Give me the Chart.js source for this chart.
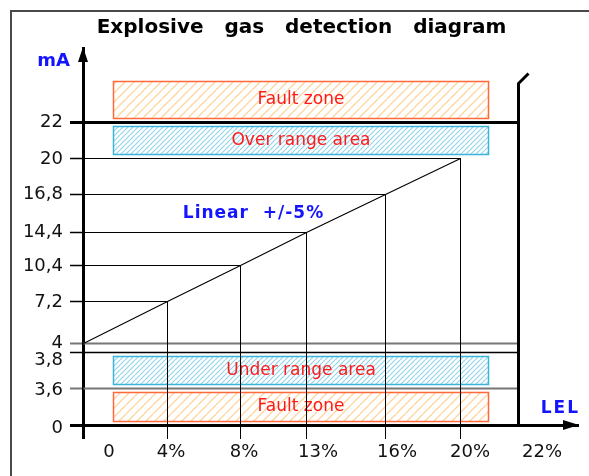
<!DOCTYPE html>
<html>
<head>
<meta charset="utf-8">
<title>Explosive gas detection diagram</title>
<script src="https://cdn.jsdelivr.net/npm/chart.js@4/dist/chart.umd.min.js"></script>
<style>
  html, body { margin: 0; padding: 0; background: #fff; }
</style>
</head>
<body>
<canvas id="gasChart" width="589" height="476"></canvas>
<script>
// values
const lelPoints = [0, 4, 8, 13, 16, 20];
const maPoints = [4, 7.2, 10.4, 14.4, 16.8, 20];
const xTickValues = [0, 4, 8, 13, 16, 20, 22];
const xTickLabels = ["0", "4%", "8%", "13%", "16%", "20%", "22%"];
const yTickValues = [0, 3.6, 3.8, 4, 7.2, 10.4, 14.4, 16.8, 20, 22];
const yTickLabels = ["0", "3,6", "3,8", "4", "7,2", "10,4", "14,4", "16,8", "20", "22"];
const limitLevels = [22, 4, 3.8, 3.6];
const xLimit = 22;
const zoneNames = ["Fault zone", "Over range area", "Under range area", "Fault zone"];
const zoneLow = [22, 20, 3.6, 0];
const zoneHigh = [24.4, 22, 3.8, 3.6];

// the drawing is a schematic: axes are piecewise linear between the marked values
class WarpScale extends Chart.LinearScale {
  _toDecimal(v) {
    const sv = this.options.warpValues, sf = this.options.warpFractions;
    let i = 1;
    while (i < sv.length - 1 && v > sv[i]) i++;
    return sf[i - 1] + (v - sv[i - 1]) / (sv[i] - sv[i - 1]) * (sf[i] - sf[i - 1]);
  }
  getPixelForValue(v) {
    const p = this.getPixelForDecimal(this._toDecimal(v));
    // keep thin lines on the pixel grid so they stay crisp
    return this.options.crisp ? Math.round(p - 0.5) + 0.5 : p;
  }
  getValueForPixel(p) {
    const d = this.getDecimalForPixel(p);
    const sv = this.options.warpValues, sf = this.options.warpFractions;
    let i = 1;
    while (i < sf.length - 1 && d > sf[i]) i++;
    return sv[i - 1] + (d - sf[i - 1]) / (sf[i] - sf[i - 1]) * (sv[i] - sv[i - 1]);
  }
  buildTicks() {
    return this.options.tickValues.map(v => ({ value: v }));
  }
}
WarpScale.id = "warp";
WarpScale.defaults = {};
Chart.register(WarpScale);

function grayLevel(v) { return v === 4 || v === 3.6; }

function hatch(ctx, gap, color, width) {
  const c = document.createElement("canvas");
  c.width = c.height = gap;
  const g = c.getContext("2d");
  g.strokeStyle = color;
  g.lineWidth = width;
  g.beginPath();
  for (let k = -1; k <= 1; k++) {
    g.moveTo(k * gap, gap);
    g.lineTo(k * gap + gap, 0);
  }
  g.stroke();
  return ctx.createPattern(c, "repeat");
}

const datasets = [];
datasets.push({
  data: lelPoints.map((x, i) => ({ x: x, y: maPoints[i] })),
  borderColor: "#000", borderWidth: 1.1
});
const drops = [];
lelPoints.forEach((x, i) => {
  if (x === 0) return;
  const y = maPoints[i];
  drops.push({ x: 0, y: y }, { x: x, y: y }, { x: x, y: 0 }, { x: x, y: null });
});
datasets.push({ data: drops, borderColor: "#000", borderWidth: 1 });
limitLevels.forEach(v => {
  datasets.push({
    data: [{ x: 0, y: v }, { x: xLimit, y: v }],
    borderColor: grayLevel(v) ? "#777" : "#000",
    borderWidth: v === 22 ? 3 : (grayLevel(v) ? 2 : 1.5)
  });
});

const decor = {
  id: "decor",
  beforeDatasetsDraw(chart) {
    const ctx = chart.ctx, xs = chart.scales.x, ys = chart.scales.y;
    const faultFill = hatch(ctx, 9, "#ffd49c", 1.3);
    const rangeFill = hatch(ctx, 5, "#93d4ea", 1.2);
    ctx.save();
    zoneNames.forEach((name, i) => {
      const fault = name.indexOf("Fault") === 0;
      const l = xs.getPixelForValue(0) + 30, r = xs.getPixelForValue(xLimit) - 30;
      const t = ys.getPixelForValue(zoneHigh[i]) + 4, b = ys.getPixelForValue(zoneLow[i]) - 4;
      ctx.fillStyle = fault ? faultFill : rangeFill;
      ctx.fillRect(l, t, r - l, b - t);
      ctx.strokeStyle = fault ? "#ff6a3d" : "#3cb4d8";
      ctx.lineWidth = 1.5;
      ctx.strokeRect(l, t, r - l, b - t);
      ctx.fillStyle = "#ff1a1a";
      ctx.font = "17px 'DejaVu Sans'";
      ctx.textAlign = "center";
      ctx.textBaseline = "middle";
      ctx.fillText(name, (l + r) / 2, (t + b) / 2);
    });
    ctx.restore();
  },
  afterDraw(chart) {
    const ctx = chart.ctx, xs = chart.scales.x, ys = chart.scales.y, a = chart.chartArea;
    ctx.save();
    // right limit with break mark
    const bx = xs.getPixelForValue(xLimit), by = ys.getPixelForValue(22) - 39;
    ctx.strokeStyle = "#000";
    ctx.lineWidth = 3;
    ctx.beginPath();
    ctx.moveTo(bx, ys.getPixelForValue(0));
    ctx.lineTo(bx, by);
    ctx.lineTo(bx + 10, by - 10);
    ctx.stroke();
    // arrow heads
    ctx.fillStyle = "#000";
    ctx.beginPath();
    ctx.moveTo(a.left, a.top - 1);
    ctx.lineTo(a.left - 5, a.top + 14);
    ctx.lineTo(a.left + 5, a.top + 14);
    ctx.closePath();
    ctx.fill();
    ctx.beginPath();
    ctx.moveTo(a.right + 1, a.bottom);
    ctx.lineTo(a.right - 15, a.bottom - 5);
    ctx.lineTo(a.right - 15, a.bottom + 5);
    ctx.closePath();
    ctx.fill();
    // axis names and note
    ctx.fillStyle = "#1414ff";
    ctx.font = "bold 18px 'DejaVu Sans'";
    ctx.textBaseline = "middle";
    ctx.textAlign = "right";
    ctx.fillText("mA", a.left - 13, a.top + 13);
    ctx.font = "bold 17px 'DejaVu Sans'";
    ctx.letterSpacing = "2px";
    ctx.fillText("LEL", a.right + 2, a.bottom - 16);
    ctx.letterSpacing = "1px";
    ctx.textAlign = "center";
    ctx.fillText("Linear  +/-5%", xs.getPixelForValue(9), ys.getPixelForValue(15.6));
    ctx.letterSpacing = "0px";
    // frame
    ctx.strokeStyle = "#4a4a4a";
    ctx.lineWidth = 2;
    ctx.strokeRect(11, 11, 700, 700);
    ctx.restore();
  }
};

new Chart(document.getElementById("gasChart"), {
  type: "line",
  data: { datasets: datasets },
  plugins: [decor],
  options: {
    responsive: false,
    animation: false,
    events: [],
    layout: { padding: { left: 25, right: 11, top: 0, bottom: 13 } },
    elements: {
      point: { radius: 0 },
      line: { tension: 0, fill: false, borderCapStyle: "butt" }
    },
    plugins: {
      legend: { display: false },
      tooltip: { enabled: false },
      title: {
        display: true,
        text: "Explosive   gas   detection   diagram",
        color: "#000",
        font: { family: "'DejaVu Sans'", size: 20, weight: "bold", lineHeight: 1.2 },
        padding: { top: 16, bottom: 8 }
      }
    },
    scales: {
      x: {
        type: "warp", position: "bottom", weight: 0, min: 0, max: 24.1, crisp: true,
        warpValues: [0, 4, 8, 13, 16, 20, 22, 24.1],
        warpFractions: [0, 0.1697, 0.3172, 0.4525, 0.6121, 0.7636, 0.8788, 1],
        tickValues: xTickValues,
        ticks: { display: false },
        border: { display: true, color: "#000", width: 3 },
        grid: {
          drawOnChartArea: false, drawTicks: true, tickLength: 14,
          tickColor: c => c.tick.value === xLimit ? "rgba(0,0,0,0)" : "#000",
          tickWidth: c => c.tick.value === 0 ? 3 : 1
        },
        afterFit: s => { s.height = 13; }
      },
      xl: {
        type: "warp", position: "bottom", weight: 1, display: true, min: 0, max: 24.1,
        warpValues: [0, 4, 8, 13, 16, 20, 22],
        warpFractions: [0.0525, 0.1778, 0.3253, 0.4747, 0.6343, 0.7818, 0.9273],
        tickValues: xTickValues,
        ticks: {
          autoSkip: false, maxRotation: 0, padding: 4, color: "#111",
          font: { family: "'DejaVu Sans'", size: 18 },
          callback: v => xTickLabels[xTickValues.indexOf(v)]
        },
        border: { display: false },
        grid: { display: false, drawTicks: false, tickLength: 0 },
        afterFit: s => { s.height = 25; }
      },
      y: {
        type: "warp", position: "left", weight: 0, min: 0, max: 26, crisp: true,
        warpValues: [0, 3.6, 3.8, 4, 7.2, 10.4, 14.4, 16.8, 20, 22, 26],
        warpFractions: [0, 0.0981, 0.1910, 0.2149, 0.3263, 0.4218, 0.5119, 0.6127, 0.7056, 0.8037, 1],
        tickValues: yTickValues,
        ticks: { display: false },
        border: { display: true, color: "#000", width: 3 },
        grid: {
          drawOnChartArea: false, drawTicks: true, tickLength: 13,
          tickColor: c => grayLevel(c.tick.value) ? "#777" : "#000",
          tickWidth: c => (c.tick.value === 0 || c.tick.value === 22) ? 3 : (grayLevel(c.tick.value) ? 2 : 1.5)
        },
        afterFit: s => { s.width = 13; }
      },
      yl: {
        type: "warp", position: "left", weight: 1, display: true, min: 0, max: 26,
        warpValues: [0, 3.6, 3.8, 4, 7.2, 10.4, 14.4, 16.8, 20, 22, 26],
        warpFractions: [-0.008, 0.0928, 0.1724, 0.2175, 0.3263, 0.4218, 0.5119, 0.6127, 0.7056, 0.8037, 1],
        tickValues: yTickValues,
        ticks: {
          autoSkip: false, padding: 7, color: "#111",
          font: { family: "'DejaVu Sans'", size: 18 },
          callback: v => yTickLabels[yTickValues.indexOf(v)]
        },
        border: { display: false },
        grid: { display: false, drawTicks: false, tickLength: 0 },
        afterFit: s => { s.width = 45; }
      }
    }
  }
});
</script>
</body>
</html>
